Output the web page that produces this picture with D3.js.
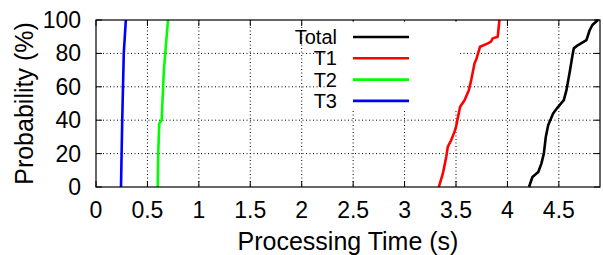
<!DOCTYPE html>
<html>
<head>
<meta charset="utf-8">
<script src="https://cdn.jsdelivr.net/npm/d3@7"></script>
<style>
  body { margin: 0; background: #fff; }
  svg text { font-family: "Liberation Sans", Arial, Helvetica, sans-serif; fill: #000; }
</style>
</head>
<body>
<div id="chart"></div>
<script>
(function() {
  // CDF samples: [time (s), probability (%)]
  const totalData = [
    [4.21, 0], [4.243, 6], [4.30, 9], [4.33, 14], [4.354, 20], [4.373, 30],
    [4.396, 37], [4.444, 44], [4.493, 48], [4.548, 52], [4.574, 58], [4.606, 69],
    [4.633, 79], [4.645, 83], [4.687, 85], [4.768, 88], [4.80, 94], [4.826, 97], [4.88, 100]
  ];
  const t1Data = [
    [3.333, 0], [3.372, 8], [3.405, 18], [3.42, 24], [3.453, 28], [3.485, 33],
    [3.50, 36], [3.52, 42], [3.54, 48], [3.583, 52], [3.625, 58], [3.648, 64],
    [3.68, 74], [3.70, 77], [3.734, 84], [3.81, 86], [3.84, 87], [3.857, 89],
    [3.906, 90], [3.922, 100]
  ];
  const t2Data = [
    [0.60, 0], [0.605, 20], [0.615, 38], [0.638, 40], [0.66, 70], [0.70, 100]
  ];
  const t3Data = [
    [0.243, 0], [0.255, 40], [0.27, 80], [0.29, 100]
  ];

  const seriesNames = ["Total", "T1", "T2", "T3"];
  const seriesColors = ["#000000", "#ff0000", "#00ff00", "#0000ff"];
  const seriesData = [totalData, t1Data, t2Data, t3Data];

  const xTicks = [0, 0.5, 1, 1.5, 2, 2.5, 3, 3.5, 4, 4.5];
  const yTicks = [0, 20, 40, 60, 80, 100];

  const width = 603, height = 255;
  const margin = { top: 20, right: 3, bottom: 68, left: 96 };
  const iw = width - margin.left - margin.right;
  const ih = height - margin.top - margin.bottom;

  const svg = d3.select("#chart").append("svg")
    .attr("width", width)
    .attr("height", height);

  const g = svg.append("g")
    .attr("transform", `translate(${margin.left},${margin.top})`);

  const x = d3.scaleLinear().domain([0, 4.9]).range([0, iw]);
  const y = d3.scaleLinear().domain([0, 100]).range([ih, 0]);

  // Grid
  g.append("g").selectAll("line")
    .data(xTicks.filter(d => d > 0))
    .join("line")
    .attr("x1", d => x(d)).attr("x2", d => x(d))
    .attr("y1", 0).attr("y2", ih)
    .attr("stroke", "#000")
    .attr("stroke-width", 1)
    .attr("stroke-dasharray", "1,2.5");

  g.append("g").selectAll("line")
    .data(yTicks.filter(d => d > 0 && d < 100))
    .join("line")
    .attr("x1", 0).attr("x2", iw)
    .attr("y1", d => y(d)).attr("y2", d => y(d))
    .attr("stroke", "#000")
    .attr("stroke-width", 1)
    .attr("stroke-dasharray", "1,2.5");

  // Ticks (inward, mirrored)
  const tickLen = 6;
  const ticksG = g.append("g").attr("stroke", "#000").attr("stroke-width", 1);
  xTicks.forEach(d => {
    ticksG.append("line").attr("x1", x(d)).attr("x2", x(d)).attr("y1", ih).attr("y2", ih - tickLen);
    ticksG.append("line").attr("x1", x(d)).attr("x2", x(d)).attr("y1", 0).attr("y2", tickLen);
  });
  yTicks.forEach(d => {
    ticksG.append("line").attr("x1", 0).attr("x2", tickLen).attr("y1", y(d)).attr("y2", y(d));
    ticksG.append("line").attr("x1", iw).attr("x2", iw - tickLen).attr("y1", y(d)).attr("y2", y(d));
  });

  // Tick labels
  g.append("g").selectAll("text")
    .data(xTicks)
    .join("text")
    .attr("x", d => x(d))
    .attr("y", ih + 31)
    .attr("text-anchor", "middle")
    .style("font-size", "23px")
    .text(d => d);

  g.append("g").selectAll("text")
    .data(yTicks)
    .join("text")
    .attr("x", -15)
    .attr("y", d => y(d) + 8)
    .attr("text-anchor", "end")
    .style("font-size", "23px")
    .text(d => d);

  // Axis titles
  svg.append("text")
    .attr("x", margin.left + iw / 2)
    .attr("y", 250)
    .attr("text-anchor", "middle")
    .style("font-size", "25px")
    .text("Processing Time (s)");

  svg.append("text")
    .attr("transform", `translate(33,${margin.top + ih / 2}) rotate(-90)`)
    .attr("text-anchor", "middle")
    .style("font-size", "25px")
    .text("Probability (%)");

  // Legend background box hides grid
  const legendBox = { x0: 2.25, x1: 3.53, y0: 99, y1: 46 };
  g.append("rect")
    .attr("x", x(legendBox.x0))
    .attr("y", y(legendBox.y0))
    .attr("width", x(legendBox.x1) - x(legendBox.x0))
    .attr("height", y(legendBox.y1) - y(legendBox.y0))
    .attr("fill", "#fff");

  // Curves
  const line = d3.line().x(d => x(d[0])).y(d => y(d[1]));
  g.append("g").selectAll("path")
    .data(seriesData)
    .join("path")
    .attr("d", line)
    .attr("fill", "none")
    .attr("stroke", (d, i) => seriesColors[i])
    .attr("stroke-width", 2.6)
    .attr("stroke-linejoin", "round");

  // Legend
  const legend = svg.append("g");
  seriesNames.forEach((name, i) => {
    const ly = 37 + i * 21.3;
    legend.append("text")
      .attr("x", 337)
      .attr("y", ly + 7)
      .attr("text-anchor", "end")
      .style("font-size", "20px")
      .text(name);
    legend.append("line")
      .attr("x1", 353).attr("x2", 409)
      .attr("y1", ly).attr("y2", ly)
      .attr("stroke", seriesColors[i])
      .attr("stroke-width", 2.6);
  });

  // Border
  g.append("rect")
    .attr("width", iw).attr("height", ih)
    .attr("fill", "none")
    .attr("stroke", "#000")
    .attr("stroke-width", 1.2);
})();
</script>
</body>
</html>
